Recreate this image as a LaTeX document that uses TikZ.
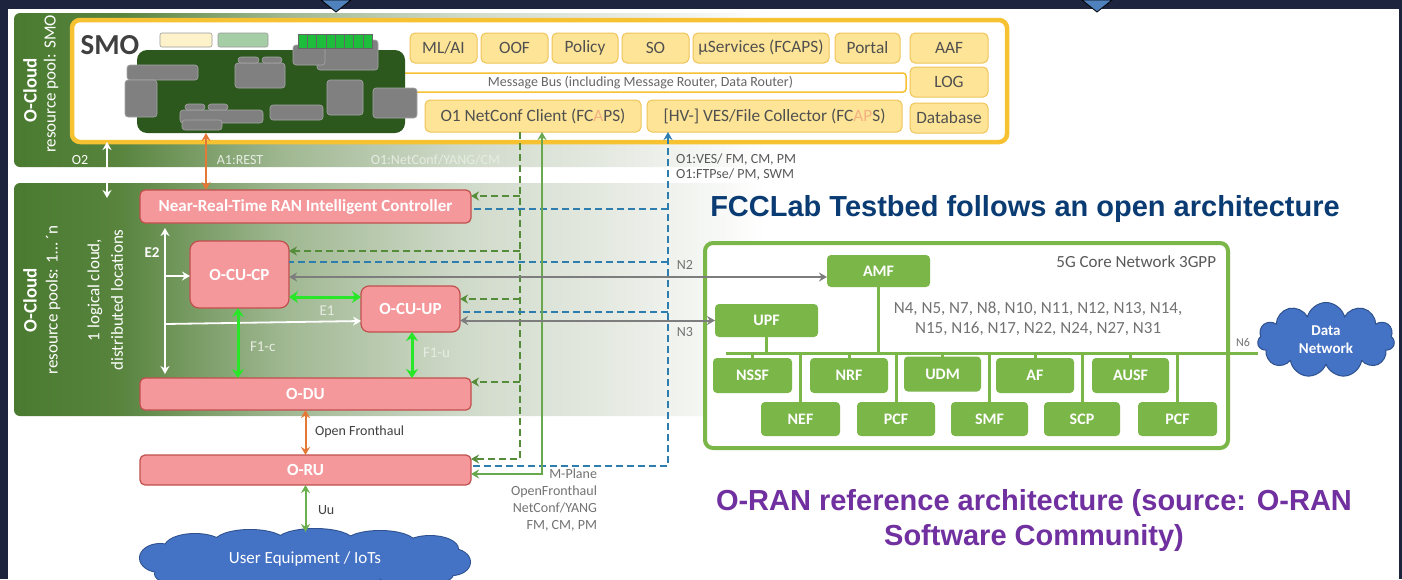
\documentclass[tikz,border=0pt]{standalone}
\usepackage{fontspec}
\setmainfont{Carlito}
\newfontfamily\arialf{Liberation Sans}
\usetikzlibrary{arrows.meta,shapes.symbols}
\definecolor{navy}{RGB}{28,36,62}
\definecolor{tri}{RGB}{79,129,189}
\definecolor{bandA}{RGB}{74,122,48}
\definecolor{bandB}{RGB}{88,132,62}
\definecolor{bandC}{RGB}{160,184,146}
\definecolor{bandD}{RGB}{208,218,202}
\definecolor{bandE}{RGB}{232,236,229}
\definecolor{ygold}{RGB}{246,194,50}
\definecolor{yfill}{RGB}{253,228,150}
\definecolor{ydraw}{RGB}{240,196,90}
\definecolor{ytext}{RGB}{80,80,80}
\definecolor{alight}{RGB}{244,177,131}
\definecolor{platc}{RGB}{44,88,30}
\definecolor{pinkfill}{RGB}{245,152,155}
\definecolor{pinkdraw}{RGB}{192,80,77}
\definecolor{dgreen}{RGB}{84,140,58}
\definecolor{sgreen}{RGB}{106,168,79}
\definecolor{dblue}{RGB}{46,125,175}
\definecolor{lgreen}{RGB}{40,230,40}
\definecolor{forange}{RGB}{228,120,55}
\definecolor{ngray}{RGB}{125,125,125}
\definecolor{cgreen}{RGB}{122,182,72}
\definecolor{cloudblue}{RGB}{68,114,196}
\definecolor{clouddraw}{RGB}{47,82,143}
\definecolor{titleblue}{RGB}{10,60,115}
\definecolor{titlepurple}{RGB}{112,48,160}
\definecolor{uugreen}{RGB}{106,176,76}
\definecolor{pale}{RGB}{230,236,226}
\definecolor{sqgreen}{RGB}{30,190,60}
\pgfdeclarehorizontalshading{bandshade}{100bp}{color(0bp)=(bandA); color(25bp)=(bandA); color(32bp)=(bandB); color(43bp)=(bandC); color(55bp)=(bandD); color(66bp)=(bandE); color(75bp)=(white); color(100bp)=(white)}
\begin{document}
\begin{tikzpicture}[x=1pt,y=-1pt,
  every node/.style={inner sep=0pt, outer sep=0pt},
  pinkbox/.style={draw=pinkdraw, fill=pinkfill, line width=1.2pt, rounded corners=5pt, text=white, font=\fontsize{17}{20}\selectfont\bfseries},
  ybox/.style={draw=ydraw, fill=yfill, line width=1pt, rounded corners=5pt, text=ytext, font=\fontsize{17.3}{20}\selectfont, minimum height=30pt},
  gbox/.style={fill=black!50, draw=black!35, line width=0.6pt, rounded corners=3pt},
  cnbox/.style={fill=cgreen, rounded corners=4pt, text=white, font=\fontsize{16}{18}\selectfont\bfseries},
  lbl/.style={font=\fontsize{14}{16}\selectfont},
  vlbl/.style={rotate=90, text=white},
  dgl/.style={draw=dgreen, line width=2pt, dash pattern=on 7pt off 4pt},
  dbl/.style={draw=dblue, line width=2pt, dash pattern=on 7pt off 4pt},
  aend/.style={-{Stealth[length=8pt,width=9pt]}},
  astart/.style={{Stealth[length=8pt,width=9pt]}-},
  aboth/.style={{Stealth[length=8pt,width=9pt]}-{Stealth[length=8pt,width=9pt]}},
  bigboth/.style={{Stealth[length=9pt,width=12pt]}-{Stealth[length=9pt,width=12pt]}},
  wl/.style={draw=white, line width=1.8pt},
  oal/.style={draw=forange, line width=2pt},
  bgl/.style={draw=lgreen, line width=3pt},
  gyl/.style={draw=ngray, line width=2pt},
  cl/.style={draw=cgreen, line width=3pt}
]
\useasboundingbox (0,0) rectangle (1402,579);
\fill[navy] (0,0) rectangle (1402,579);
\fill[white] (8,9) rectangle (1399,579);
\filldraw[fill=tri, draw=black, line width=0.8pt] (321,0) -- (351,0) -- (336,12) -- cycle;
\filldraw[fill=tri, draw=black, line width=0.8pt] (1082,0) -- (1112,0) -- (1097,12) -- cycle;

% O-Cloud bands
\shade[shading=bandshade, rounded corners=6pt] (14,13) rectangle (765,167);
\shade[shading=bandshade, rounded corners=6pt] (14,183) rectangle (765,416);

\node[vlbl, font=\fontsize{19}{22}\selectfont\bfseries] (oc1) at (30,90) {O-Cloud};
\node[vlbl, font=\fontsize{17}{20}\selectfont] (rp1) at (51,84) {resource pool: SMO};
\node[vlbl, font=\fontsize{19}{22}\selectfont\bfseries] (oc2) at (30,300) {O-Cloud};
\node[vlbl, font=\fontsize{17}{20}\selectfont] (rp2) at (53,300) {resource pools: 1… ´n};
\node[vlbl, font=\fontsize{17}{20}\selectfont] (lc1) at (95,290) {1 logical cloud,};
\node[vlbl, font=\fontsize{17}{20}\selectfont] (lc2) at (117,300) {distributed locations};

% SMO box
\node[draw=ygold, fill=white, line width=4.5pt, rounded corners=8pt, minimum width=935pt, minimum height=122pt] (smo) at (539.5,81) {};
\node[font=\fontsize{29}{32}\selectfont\bfseries, text=black!75] (smot) at (110,45) {SMO};
\node[draw=ygold, fill=white, line width=1.5pt, rounded corners=3pt, minimum width=531pt, minimum height=19pt, text=black!60, font=\fontsize{14}{16}\selectfont] (bus) at (640.5,82.5) {Message Bus (including Message Router, Data Router)};
\node[ybox, minimum width=67pt] (mlai) at (443.5,48) {ML/AI};
\node[ybox, minimum width=67pt] (oof) at (514.5,48) {OOF};
\node[ybox, minimum width=66pt] (policy) at (585,48) {Policy};
\node[ybox, minimum width=67pt] (so) at (655.5,48) {SO};
\node[ybox, minimum width=136pt] (musvc) at (761,48) {µServices (FCAPS)};
\node[ybox, minimum width=65pt] (portal) at (867.5,48) {Portal};
\node[ybox, minimum width=78pt] (aaf) at (949,48) {AAF};
\node[ybox, minimum width=78pt] (log) at (949,82) {LOG};
\node[ybox, minimum width=78pt] (dbase) at (949,118) {Database};
\node[ybox, minimum width=216pt, minimum height=32pt] (o1nc) at (533,116) {O1 NetConf Client (FC\textcolor{alight}{A}PS)};
\node[ybox, minimum width=255pt, minimum height=32pt] (ves) at (774.5,116) {[HV-] VES/File Collector (FC\textcolor{alight}{AP}S)};

% non-RT RIC platform
\filldraw[fill=yfill!50, draw=black!40, line width=0.6pt, rounded corners=2pt] (160,33) rectangle (212,47);
\filldraw[fill=green!45!black!35!white, draw=black!40, line width=0.6pt, rounded corners=2pt] (218,33) rectangle (268,47);
\node[fill=platc, rounded corners=10pt, minimum width=268pt, minimum height=83pt] (plat) at (271,91.5) {};
\fill[gbox] (317,40) rectangle (378,70);
\fill[gbox] (293,45) rectangle (325,65);
\foreach \i in {0,...,7} {\filldraw[fill=sqgreen, draw=black!60, line width=0.5pt] (298+\i*9.25,34) rectangle (298+\i*9.25+9.25,48);}
\fill[gbox] (127,65) rectangle (198,80);
\fill[gbox] (125,80) rectangle (157,117);
\fill[gbox] (235,63) rectangle (285,88);
\fill[gbox] (238,57) rectangle (259,63);
\fill[gbox] (262,57) rectangle (282,63);
\fill[gbox] (327,80) rectangle (363,115);
\fill[gbox] (373,88) rectangle (417,118);
\fill[gbox] (270,105) rectangle (323,120);
\fill[gbox] (180,110) rectangle (263,123);
\fill[gbox] (185,104) rectangle (205,110);
\fill[gbox] (208,104) rectangle (228,110);
\fill[gbox] (182,120) rectangle (222,130);

% band labels
\node[lbl, text=white] (o2l) at (80,160) {O2};
\node[lbl, text=pale] (a1l) at (240,160) {A1:REST};
\node[lbl, text=pale, anchor=east] (o1l) at (500,160) {O1:NetConf/YANG/CM};
\node[lbl, text=black!65, anchor=west] (vesl1) at (676,160) {O1:VES/ FM, CM, PM};
\node[lbl, text=black!65, anchor=west] (vesl2) at (676,175) {O1:FTPse/ PM, SWM};

% RAN nodes
\node[pinkbox, minimum width=331pt, minimum height=33pt] (ric) at (305.5,206.5) {Near-Real-Time RAN Intelligent Controller};
\node[pinkbox, rounded corners=9pt, minimum width=99pt, minimum height=67pt] (cucp) at (239.5,274.5) {O-CU-CP};
\node[pinkbox, rounded corners=8pt, minimum width=99pt, minimum height=46pt] (cuup) at (410.5,309) {O-CU-UP};
\node[pinkbox, minimum width=331pt, minimum height=32pt] (odu) at (305.5,394) {O-DU};
\node[pinkbox, minimum width=331pt, minimum height=30pt] (oru) at (305.5,470) {O-RU};

% UE cloud (drawn from overlapping puffs)
\foreach \cx/\cy/\rx/\ry in {160/558/20/14, 195/547/30/13, 250/542/35/12, 315/541/38/12, 380/543/35/12, 430/549/28/13, 452/562/18/13, 190/574/35/12, 260/580/40/12, 340/580/40/12, 415/574/38/12}
  {\filldraw[fill=cloudblue, draw=clouddraw, line width=2pt] (\cx,\cy) ellipse [x radius=\rx, y radius=\ry];}
\foreach \cx/\cy/\rx/\ry in {160/558/20/14, 195/547/30/13, 250/542/35/12, 315/541/38/12, 380/543/35/12, 430/549/28/13, 452/562/18/13, 190/574/35/12, 260/580/40/12, 340/580/40/12, 415/574/38/12, 305/561/140/20}
  {\fill[cloudblue] (\cx,\cy) ellipse [x radius=\rx, y radius=\ry];}
\node[minimum width=330pt, minimum height=50pt, text=white, font=\fontsize{17}{20}\selectfont] (ue) at (305,559) {User Equipment / IoTs};

% O2, A1
\draw[wl, aboth] (smo.south -| 107,0) -- (107,198);
\draw[oal, aboth] (plat.south -| 206,0) -- (ric.north -| 206,0);

% E2
\coordinate (e2top) at (165,228);
\coordinate (e2bot) at (165,374);
\draw[wl, aboth] (e2top) -- (e2bot);
\draw[wl, aend] (165,276) -- (cucp.west |- 0,276);
\draw[wl, aend] (165,324) -- (cuup.west |- 0,321);
\node[font=\fontsize{15}{18}\selectfont\bfseries, text=white] (e2l) at (152,253) {E2};

% E1, F1
\draw[bgl, bigboth] (cucp.east |- 0,297) -- (cuup.west |- 0,297);
\draw[bgl, bigboth] (cucp.south -| 238,0) -- (odu.north -| 238,0);
\draw[bgl, bigboth] (cuup.south -| 412,0) -- (odu.north -| 412,0);
\node[font=\fontsize{15}{18}\selectfont, text=pale] (e1l) at (327,311) {E1};
\node[font=\fontsize{15}{18}\selectfont, text=pale, anchor=west] (f1cl) at (250,347) {F1-c};
\node[font=\fontsize{15}{18}\selectfont, text=pale, anchor=west] (f1ul) at (423,353) {F1-u};

% fronthaul, Uu
\draw[oal, aboth] (odu.south) -- (oru.north);
\node[lbl, text=black!75, anchor=west] (ofl) at (315,432) {Open Fronthaul};
\draw[draw=uugreen, line width=2pt, aboth] (oru.south) -- (oru.south |- 0,532);
\node[lbl, text=black!75, anchor=west] (uul) at (318,510) {Uu};

% O1 green dashed
\path (o1nc.south -| 520,0) coordinate (gtop);
\coordinate (gru) at (520,459);
\draw[dgl, aend] (gtop) -- (gru) -- (oru.east |- gru);
\draw[dgl, aend] (520,196) -- (ric.east |- 0,196);
\draw[dgl, aend] (520,251) -- (cucp.east |- 0,251);
\draw[dgl, aend] (520,299) -- (cuup.east |- 0,299);
\draw[dgl, aend] (520,382) -- (odu.east |- 0,382);

% O1 blue dashed
\path (ves.south -| 668,0) coordinate (btop);
\coordinate (bru) at (668,466);
\draw[dbl, astart] (btop) -- (bru) -- (oru.east |- bru);
\draw[dbl] (668,209) -- (ric.east |- 0,209);
\draw[dbl] (668,262) -- (cucp.east |- 0,262);
\draw[dbl] (668,312) -- (cuup.east |- 0,312);

% M-plane solid green
\coordinate (sru) at (542,474);
\draw[draw=sgreen, line width=1.6pt, aboth] (oru.east |- sru) -- (sru) -- (o1nc.south -| sru);
\node[lbl, text=black!55, anchor=north east, align=right, font=\fontsize{14}{17}\selectfont] (mpl) at (597,469) {M-Plane\\OpenFronthaul\\NetConf/YANG\\FM, CM, PM};

% 5G core
\node[draw=cgreen, fill=white, line width=4pt, rounded corners=8pt, minimum width=523pt, minimum height=205pt] (core) at (966.5,345.5) {};
\node[text=black!65, anchor=east, font=\fontsize{17}{20}\selectfont] (corel) at (1216,262) {5G Core Network 3GPP};
\node[cnbox, minimum width=103pt, minimum height=32pt] (amf) at (878.5,271) {AMF};
\node[cnbox, minimum width=103pt, minimum height=33pt] (upf) at (766.5,320.5) {UPF};
\node[text=black!55, align=center, font=\fontsize{17}{20}\selectfont] (nlist) at (1038,319) {N4, N5, N7, N8, N10, N11, N12, N13, N14,\\N15, N16, N17, N22, N24, N27, N31};
\node[cnbox, minimum width=79pt, minimum height=35pt] (nssf) at (752.5,375.5) {NSSF};
\node[cnbox, minimum width=78pt, minimum height=35pt] (nrf) at (849,375.5) {NRF};
\node[cnbox, minimum width=77pt, minimum height=35pt] (udm) at (942.5,374) {UDM};
\node[cnbox, minimum width=78pt, minimum height=35pt] (af) at (1035,375.5) {AF};
\node[cnbox, minimum width=77pt, minimum height=35pt] (ausf) at (1130.5,375.5) {AUSF};
\node[cnbox, minimum width=79pt, minimum height=34pt] (nef) at (800.5,419) {NEF};
\node[cnbox, minimum width=78pt, minimum height=34pt] (pcf) at (896,419) {PCF};
\node[cnbox, minimum width=77pt, minimum height=34pt] (smf) at (989.5,419) {SMF};
\node[cnbox, minimum width=76pt, minimum height=34pt] (scp) at (1082,419) {SCP};
\node[cnbox, minimum width=79pt, minimum height=34pt] (pcfb) at (1177.5,419) {PCF};
\node[cloud, cloud puffs=11, cloud ignores aspect, minimum width=137pt, minimum height=75pt, fill=cloudblue, draw=clouddraw, line width=1pt, text=white, align=center, font=\fontsize{15}{18}\selectfont\bfseries] (dn) at (1326,340) {Data\\Network};

\coordinate (busl) at (726,353);
\draw[cl] (busl) -- (dn.west |- busl);
\draw[cl] (amf.south) -- (amf.south |- busl);
\draw[cl] (upf.south) -- (upf.south |- busl);
\foreach \n in {nssf,nrf,udm,af,ausf,nef,pcf,smf,scp,pcfb} {\draw[cl] (\n.north) -- (\n.north |- busl);}
\node[font=\fontsize{12}{14}\selectfont, text=black!55] (n6l) at (1243,342) {N6};

% N2, N3
\draw[gyl, aboth] (cucp.east |- 0,277) -- (amf.west |- 0,277);
\draw[gyl, aboth] (cuup.east |- upf.west) -- (upf.west);
\node[lbl, text=black!55] (n2l) at (685,265) {N2};
\node[lbl, text=black!55] (n3l) at (685,332) {N3};

% titles
\node[font=\arialf\bfseries\fontsize{29}{34}\selectfont, text=titleblue] (t1) at (1025,209) {FCCLab Testbed follows an open architecture};
\node[font=\arialf\bfseries\fontsize{29}{35}\selectfont, text=titlepurple, align=center] (t2) at (1034,520) {O-RAN reference architecture (source: O-RAN\\Software Community)};
\end{tikzpicture}
\end{document}
